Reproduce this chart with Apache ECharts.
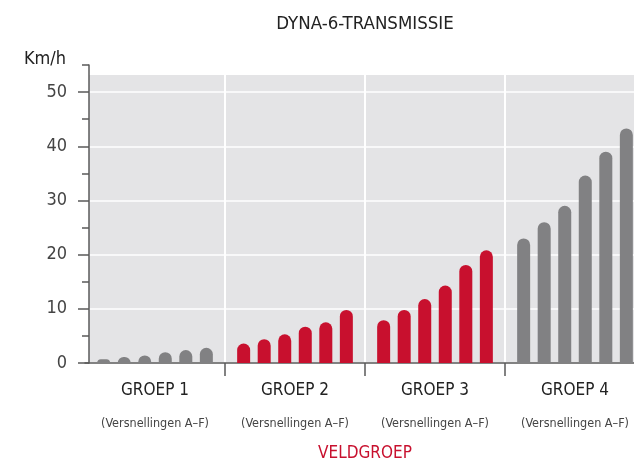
<!DOCTYPE html>
<html>
<head>
<meta charset="utf-8">
<script src="https://cdn.jsdelivr.net/npm/echarts@6/dist/echarts.min.js"></script>
<style>
  html, body { margin: 0; padding: 0; background: #fff; }
  #chart { width: 634px; height: 462px; }
</style>
</head>
<body>
<div id="chart"></div>
<script>
// snelheden per groep, versnellingen A-F (km/h)
var groups = ['GROEP 1', 'GROEP 2', 'GROEP 3', 'GROEP 4'];
var gears = ['A', 'B', 'C', 'D', 'E', 'F'];
var groep1 = [0.7, 1.1, 1.4, 2.0, 2.4, 2.8];
var groep2 = [3.6, 4.4, 5.3, 6.7, 7.5, 9.8];
var groep3 = [7.9, 9.8, 11.8, 14.3, 18.1, 20.8];
var groep4 = [23.0, 26.0, 29.0, 34.6, 39.0, 43.3];
var yLabels = [0, 10, 20, 30, 40, 50];
var subLabel = '(Versnellingen A–F)';

var FONT = "'Liberation Sans Narrow', 'DejaVu Sans Condensed', sans-serif";
var GRAY = '#818183';
var RED = '#c8102e';
var AXIS = '#5a5a5a';
var groupColors = [GRAY, RED, RED, GRAY];
var allGroups = [groep1, groep2, groep3, groep4];

var chart = echarts.init(document.getElementById('chart'));

// one series per gear, so each group gets six bars side by side
var series = gears.map(function (g, i) {
  return {
    name: g,
    type: 'bar',
    barWidth: 13,
    barGap: '58%',
    data: allGroups.map(function (vals, k) {
      return { value: vals[i], itemStyle: { color: groupColors[k] } };
    }),
    itemStyle: { borderRadius: [6.5, 6.5, 0, 0] }
  };
});

var option = {
  animation: false,
  title: {
    text: 'DYNA-6-TRANSMISSIE',
    left: 365,
    top: 15,
    padding: 0,
    textAlign: 'center',
    textStyle: { fontFamily: FONT, fontSize: 18.5, fontWeight: 'normal', color: '#222' }
  },
  grid: [
    { left: 85, top: 65, width: 560, bottom: 99, outerBoundsMode: 'none', show: false },
    // grey plot background, starts at the y axis line
    { left: 89, top: 75, right: 0, bottom: 99, outerBoundsMode: 'none', show: true,
      backgroundColor: '#e4e4e6', borderWidth: 0 }
  ],
  xAxis: {
    type: 'category',
    data: groups,
    gridIndex: 0,
    name: 'VELDGROEP',
    nameLocation: 'middle',
    nameGap: 82,
    nameMoveOverlap: false,
    nameTextStyle: { color: RED, fontSize: 17, fontFamily: FONT },
    axisLine: { lineStyle: { color: AXIS, width: 1.5 } },
    axisTick: {
      show: true,
      length: 13,
      interval: function (i) { return i > 0; },
      lineStyle: { color: AXIS, width: 1.5 }
    },
    splitLine: {
      show: true,
      interval: function (i) { return i > 0; },
      lineStyle: { color: '#fff', width: 2 }
    },
    axisLabel: {
      interval: 0,
      margin: 14,
      formatter: function (v) { return '{a|' + v + '}\n{b|' + subLabel + '}'; },
      rich: {
        a: { fontFamily: FONT, fontSize: 17, color: '#222', lineHeight: 28 },
        b: { fontFamily: FONT, fontSize: 12.5, color: '#444', lineHeight: 38 }
      }
    }
  },
  yAxis: [
    {
      type: 'value',
      position: 'left',
      min: 0,
      max: 55,
      interval: 10,
      offset: -4,
      name: 'Km/h',
      nameLocation: 'end',
      nameGap: -3,
      nameMoveOverlap: false,
      nameTextStyle: {
        fontFamily: FONT, fontSize: 18, color: '#222',
        align: 'right', verticalAlign: 'bottom', padding: [0, 23, 0, 0]
      },
      axisLine: { show: true, lineStyle: { color: AXIS, width: 1.5 } },
      axisTick: { show: true, length: 11, customValues: yLabels, lineStyle: { color: AXIS, width: 1.5 } },
      axisLabel: { customValues: yLabels, margin: 22, fontFamily: FONT, fontSize: 18, color: '#444' },
      splitLine: { show: true, lineStyle: { color: '#fff', width: 1.5 } }
    },
    {
      // short ticks every 5
      type: 'value',
      position: 'left',
      min: 0,
      max: 55,
      interval: 5,
      offset: -4,
      axisLine: { show: false },
      axisTick: { show: true, length: 7, lineStyle: { color: AXIS, width: 1.5 } },
      axisLabel: { show: false },
      splitLine: { show: false }
    }
  ],
  series: series
};

chart.setOption(option);
</script>
</body>
</html>
